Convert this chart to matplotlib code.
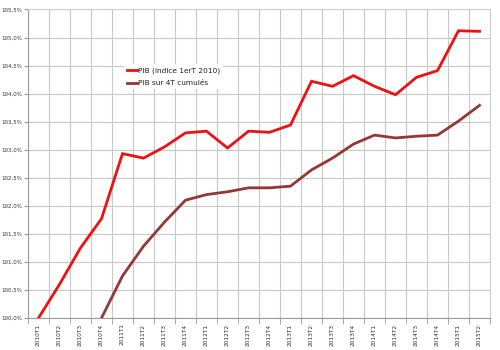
import matplotlib.pyplot as plt
import numpy as np
from matplotlib.ticker import FuncFormatter, MultipleLocator

trimestres = ["2010T1", "2010T2", "2010T3", "2010T4",
              "2011T1", "2011T2", "2011T3", "2011T4",
              "2012T1", "2012T2", "2012T3", "2012T4",
              "2013T1", "2013T2", "2013T3", "2013T4",
              "2014T1", "2014T2", "2014T3", "2014T4",
              "2015T1", "2015T2"]

# PIB en indice, base 100 au 1er trimestre 2010
pib_indice = [100.0, 100.6, 101.25, 101.77,
              102.93, 102.85, 103.05, 103.3,
              103.33, 103.03, 103.33, 103.31,
              103.44, 104.22, 104.13, 104.32,
              104.13, 103.98, 104.29, 104.41,
              105.12, 105.11]

# PIB sur 4 trimestres cumulés (commence en 2010T4)
pib_cumul = [None, None, None, 100.0,
             100.75, 101.28, 101.71, 102.1,
             102.2, 102.25, 102.32, 102.32,
             102.35, 102.64, 102.85, 103.1,
             103.26, 103.21, 103.24, 103.26,
             103.51, 103.79]

x = np.arange(len(trimestres))
cumul = np.array([np.nan if v is None else v for v in pib_cumul])

fig = plt.figure(figsize=(5, 3.5), dpi=100)
ax = fig.add_axes([0.056, 0.0914, 0.924, 0.8816])

ax.plot(x, pib_indice, color="#ee1111", lw=2.0, label="PIB (indice 1erT 2010)",
        solid_joinstyle="miter", zorder=3)
ax.plot(x, cumul, color="#953735", lw=2.0, label="PIB sur 4T cumulés",
        solid_joinstyle="miter", zorder=3)

ax.set_xlim(-0.5, len(trimestres) - 0.5)
ax.set_ylim(100, 105.5)
ax.yaxis.set_major_locator(MultipleLocator(0.5))
ax.yaxis.set_major_formatter(FuncFormatter(lambda v, p: f"{v:.1f}%".replace(".", ",")))

# grille verticale entre les trimestres, étiquettes au centre
ax.set_xticks(x)
ax.set_xticklabels(trimestres, rotation=90, fontsize=4.2, color="#333333")
ax.set_xticks(np.arange(-0.5, len(trimestres)), minor=True)
ax.tick_params(axis="x", which="major", length=0, pad=4)
ax.tick_params(axis="x", which="minor", length=4, color="#999999")
ax.tick_params(axis="y", labelsize=4, labelcolor="#333333", length=3, pad=1.5,
               color="#999999")
ax.grid(True, axis="x", which="minor", color="#c8c8c8", lw=0.8)
ax.grid(True, axis="y", which="major", color="#c8c8c8", lw=0.8)

for side in ["top", "right"]:
    ax.spines[side].set_color("#d0d0d0")
for side in ["left", "bottom"]:
    ax.spines[side].set_color("#999999")
    ax.spines[side].set_linewidth(0.8)

leg = ax.legend(loc="upper left", bbox_to_anchor=(0.2, 0.835), fontsize=5.3,
                frameon=True, fancybox=False, edgecolor="none", framealpha=1,
                handlelength=1.3, handletextpad=0.2, labelspacing=0.9,
                borderpad=0.4)
for t in leg.get_texts():
    t.set_color("#222222")

fig.savefig("out.png", dpi=100)
